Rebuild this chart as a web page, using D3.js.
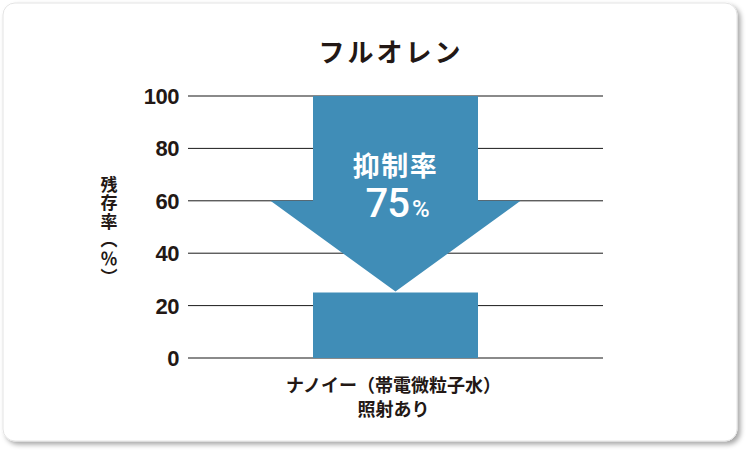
<!DOCTYPE html>
<html>
    <head>
        <meta charset="utf-8">
        <title>フルオレン</title>
        <style>
            body { margin: 0; background: #fff; }
        </style>
    </head>

    <body>
        <script src="https://d3js.org/d3.v7.min.js"></script>
        <script>
            // data
            var categories = ['ナノイー（帯電微粒子水）照射あり'];
            var residual = [25];          // 残存率 after treatment (%)
            var baseline = [100];         // starting level (%)
            var headStart = [60];         // where the arrow head begins (%)
            var yTicks = [0, 20, 40, 60, 80, 100];
            var title = 'フルオレン';
            var yLabel = '残存率（％）';
            var rateLabel = '抑制率';

            var W = 750, H = 455;
            var ink = '#231815';
            var blue = '#408db7';
            var jp = '"Noto Sans CJK JP", sans-serif';
            var num = '"Liberation Sans", Arial, sans-serif';

            var svg = d3.select('body')
                .append('svg')
                .attr('width', W)
                .attr('height', H);

            var defs = svg.append('defs');
            var f = defs.append('filter').attr('id', 'shadow')
                .attr('x', '-5%').attr('y', '-5%').attr('width', '110%').attr('height', '110%');
            f.append('feDropShadow')
                .attr('dx', 3).attr('dy', 3)
                .attr('stdDeviation', 2.5)
                .attr('flood-color', '#000')
                .attr('flood-opacity', 0.35);

            // card
            svg.append('rect')
                .attr('x', 3).attr('y', 3)
                .attr('width', 734).attr('height', 438)
                .attr('rx', 12)
                .attr('fill', '#fff')
                .attr('stroke', '#e4e4e4')
                .attr('stroke-width', 1)
                .attr('filter', 'url(#shadow)');

            var y = d3.scaleLinear().domain([0, 100]).range([358, 96]);
            var x = d3.scaleBand()
                .domain(categories)
                .range([188, 603])
                .paddingInner(0)
                .paddingOuter(0.7576);

            // gridlines
            svg.selectAll('line.grid').data(yTicks)
                .enter()
                .append('line')
                .attr('class', 'grid')
                .attr('x1', 188).attr('x2', 603)
                .attr('y1', function(d) { return y(d); })
                .attr('y2', function(d) { return y(d); })
                .attr('stroke', function(d) { return (d === 0 || d === 100) ? '#8a8a8a' : '#1a1a1a'; })
                .attr('stroke-width', function(d) { return (d === 0 || d === 100) ? 2 : 1; });

            // tick labels
            svg.selectAll('text.tick').data(yTicks)
                .enter()
                .append('text')
                .attr('class', 'tick')
                .attr('x', 179)
                .attr('y', function(d) { return y(d) + 8; })
                .attr('text-anchor', 'end')
                .style('font-family', num)
                .style('font-weight', 'bold')
                .style('font-size', '22px')
                .style('letter-spacing', '-0.5px')
                .attr('fill', ink)
                .text(function(d) { return d; });

            // bar
            svg.selectAll('rect.bar').data(residual)
                .enter()
                .append('rect')
                .attr('class', 'bar')
                .attr('x', function(d, i) { return x(categories[i]); })
                .attr('y', function(d) { return y(d); })
                .attr('width', x.bandwidth())
                .attr('height', function(d) { return y(0) - y(d); })
                .attr('fill', blue);

            // arrow from baseline down to residual
            svg.selectAll('path.arrow').data(residual)
                .enter()
                .append('path')
                .attr('class', 'arrow')
                .attr('fill', blue)
                .attr('d', function(d, i) {
                    var x0 = x(categories[i]);
                    var x1 = x0 + x.bandwidth();
                    var cx = x0 + x.bandwidth() / 2;
                    var hw = x.bandwidth() * 0.758;
                    var top = y(baseline[i]);
                    var hs = y(headStart[i]);
                    var tip = y(d) - 1;
                    return 'M' + x0 + ',' + top +
                        'L' + x1 + ',' + top +
                        'L' + x1 + ',' + hs +
                        'L' + (cx + hw) + ',' + hs +
                        'L' + cx + ',' + tip +
                        'L' + (cx - hw) + ',' + hs +
                        'L' + x0 + ',' + hs + 'Z';
                });

            var cx = x(categories[0]) + x.bandwidth() / 2;

            // rate label in the arrow
            svg.append('text')
                .attr('x', cx)
                .attr('y', 176)
                .attr('text-anchor', 'middle')
                .style('font-family', jp)
                .style('font-weight', 'bold')
                .style('font-size', '27px')
                .style('letter-spacing', '1.5px')
                .attr('fill', '#fff')
                .text(rateLabel);

            var pct = svg.append('text')
                .attr('x', cx + 2)
                .attr('y', 217)
                .attr('text-anchor', 'middle')
                .style('font-family', 'Roboto, "Liberation Sans", sans-serif')
                .style('font-weight', 500)
                .attr('fill', '#fff');
            pct.append('tspan')
                .style('font-size', '40px')
                .style('letter-spacing', '-1px')
                .text(baseline[0] - residual[0]);
            pct.append('tspan')
                .attr('dx', 3)
                .style('font-size', '24px')
                .text('%');

            // title
            svg.append('text')
                .attr('x', 391)
                .attr('y', 62)
                .attr('text-anchor', 'middle')
                .style('font-family', jp)
                .style('font-weight', 'bold')
                .style('font-size', '26px')
                .style('letter-spacing', '3px')
                .attr('fill', ink)
                .text(title);

            // y axis label, vertical
            svg.append('text')
                .attr('x', 109)
                .attr('y', 176)
                .style('writing-mode', 'vertical-rl')
                .style('font-family', jp)
                .style('font-weight', 'bold')
                .style('font-size', '17px')
                .style('letter-spacing', '1.5px')
                .attr('fill', ink)
                .text(yLabel);

            // category label, two lines
            var cat = svg.append('text')
                .attr('text-anchor', 'middle')
                .style('font-family', jp)
                .style('font-weight', 'bold')
                .style('font-size', '18px')
                .attr('fill', ink);
            cat.append('tspan').attr('x', cx - 2).attr('y', 392).text('ナノイー（帯電微粒子水）');
            cat.append('tspan').attr('x', cx - 2).attr('y', 416).text('照射あり');
        </script>
    </body>
</html>
